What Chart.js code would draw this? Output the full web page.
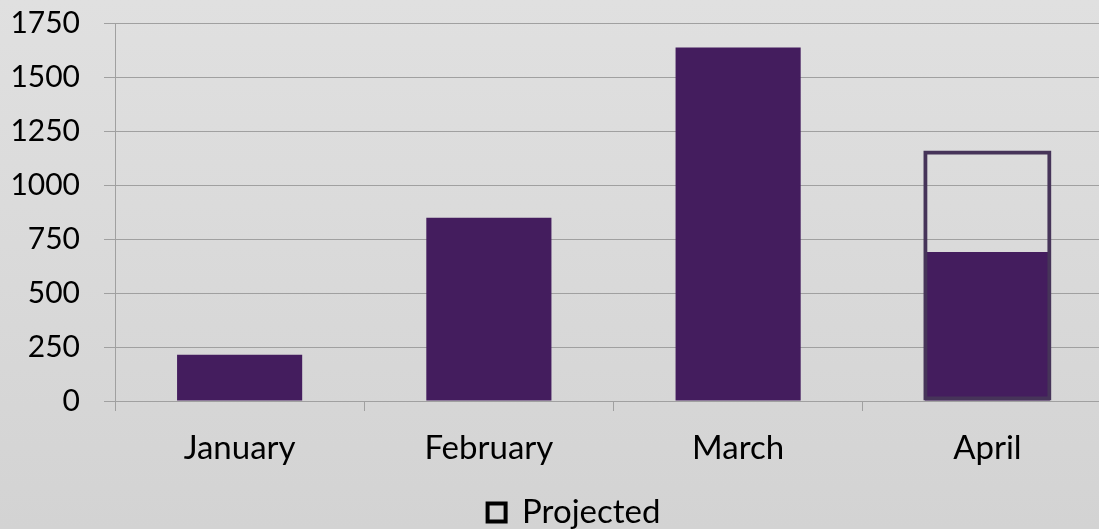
<!DOCTYPE html>
<html><head><meta charset="utf-8">
<script src="https://cdn.jsdelivr.net/npm/chart.js@4/dist/chart.umd.min.js"></script>
<style>
html,body{margin:0;padding:0;}
body{width:1099px;height:529px;background:linear-gradient(#e0e0e0,#d3d3d3);overflow:hidden;}
canvas{display:block;}
</style></head>
<body><canvas id="c" width="1135" height="529"></canvas>
<script>
const categories = ["January", "February", "March", "April"];
const actualValues = [214, 848, 1636, 690];
const projectedValues = [null, null, null, 1160];
const yTicks = [0, 250, 500, 750, 1000, 1250, 1500, 1750];

const FONT = "Lato, 'Liberation Sans', sans-serif";
const shiftLegend = {
  id: 'shiftLegend',
  afterLayout(chart) {
    const lg = chart.legend;
    if (lg) { lg.left += 18; lg.right += 18; }
  }
};
new Chart(document.getElementById('c'), {
  type: 'bar',
  data: {
    labels: categories,
    datasets: [
      { label: 'Projected', data: projectedValues, backgroundColor: 'rgba(0,0,0,0)',
        borderColor: '#463459', borderWidth: 4, borderSkipped: false, grouped: false,
        barPercentage: 0.514, categoryPercentage: 1 },
      { label: 'Actual', data: actualValues, backgroundColor: '#441d5e',
        borderColor: '#441d5e', borderWidth: 0, grouped: false,
        barPercentage: 0.502, categoryPercentage: 1 }
    ]
  },
  plugins: [shiftLegend],
  options: {
    responsive: false,
    animation: false,
    layout: { padding: { top: 23, right: 23, left: 0, bottom: -10 } },
    plugins: {
      tooltip: { enabled: false },
      legend: {
        position: 'bottom',
        labels: {
          font: { family: FONT, size: 33 },
          color: '#000',
          boxWidth: 18, boxHeight: 18, padding: 4,
          generateLabels: (chart) => [{ text: 'Projected', fillStyle: 'rgba(0,0,0,0)', strokeStyle: '#000', lineWidth: 4, datasetIndex: 0, hidden: false }]
        }
      }
    },
    scales: {
      x: {
        offset: true,
        grid: { display: true, drawOnChartArea: false, offset: true, tickLength: 10, color: '#a0a0a0', lineWidth: 1 },
        border: { display: true, color: '#a0a0a0' },
        ticks: { font: { family: FONT, size: 33 }, color: '#000', padding: 18 },
        afterFit: (s) => { s.height = 91; s.paddingLeft = 0; s.paddingRight = 0; }
      },
      y: {
        min: 0, max: 1750,
        afterBuildTicks: (s) => { s.ticks = yTicks.map(v => ({ value: v })); },
        grid: { color: '#a0a0a0', lineWidth: 1, tickLength: 11 },
        border: { display: true, color: '#a0a0a0' },
        ticks: { font: { family: FONT, size: 30 }, color: '#000', padding: 24, callback: (v) => String(v) },
        afterFit: (s) => { s.width = 115; s.paddingTop = 0; s.paddingBottom = 0; }
      }
    }
  }
});
</script></body></html>
